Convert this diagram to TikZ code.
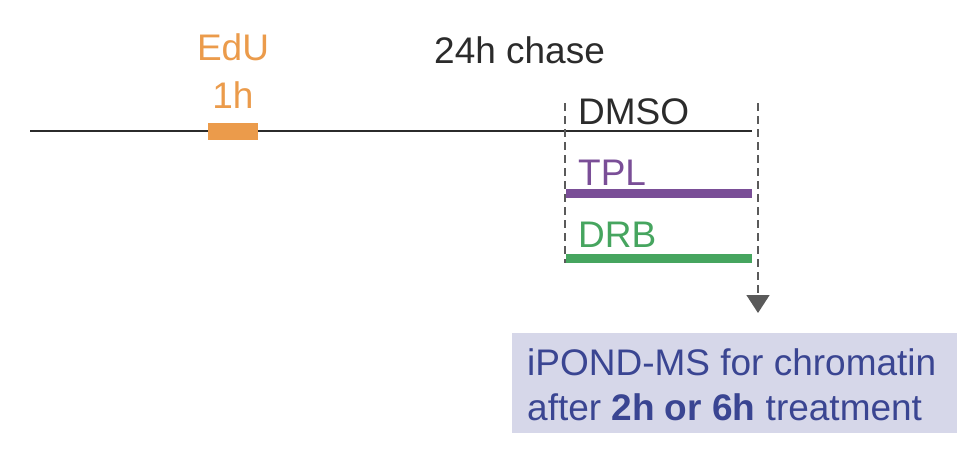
\documentclass[tikz,border=0pt]{standalone}
\usepackage{fontspec}
\setmainfont{Liberation Sans}
\usetikzlibrary{arrows.meta}
\definecolor{eduorange}{HTML}{EB9B4B}
\definecolor{tplpurple}{HTML}{7A4E97}
\definecolor{drbgreen}{HTML}{46A55F}
\definecolor{markgrey}{HTML}{5A5A5A}
\definecolor{boxfill}{HTML}{D6D7E9}
\definecolor{boxtext}{HTML}{3A4592}
\definecolor{inkblack}{HTML}{2B2B2B}
\tikzset{
  label text/.style={inner sep=0pt, anchor=base west, font=\fontsize{37}{44}\selectfont},
  timepoint/.style={markgrey, line width=1.6pt, dash pattern=on 8pt off 5pt},
}
\begin{document}
\begin{tikzpicture}[x=1pt, y=-1pt, line join=round, >={Triangle[width=23pt,length=18pt]}]
	\useasboundingbox (0,0) rectangle (974,448);
	% time line
	\coordinate (start) at (30,131);
	\coordinate (end) at (752,131);
	\draw[inkblack, line width=1.6pt] (start)--(end);
	\fill[eduorange] (208,123) rectangle (258,140);
	\node[label text, eduorange, anchor=base] (edu) at (233,60){EdU};
	\node[label text, eduorange, anchor=base] (pulse) at (233,108){1h};
	\node[label text, inkblack] (chase) at (434,63){24h chase};
	% treatments
	\coordinate (tplstart) at (566,193.5);
	\coordinate (tplend) at (752,193.5);
	\coordinate (drbstart) at (566,258.5);
	\coordinate (drbend) at (752,258.5);
	\draw[tplpurple, line width=9pt] (tplstart)--(tplend);
	\draw[drbgreen, line width=9pt] (drbstart)--(drbend);
	\node[label text, inkblack] (dmso) at (578,124){DMSO};
	\node[label text, tplpurple] (tpl) at (578,185){TPL};
	\node[label text, drbgreen] (drb) at (578,247){DRB};
	% start and end of treatment
	\coordinate (treatstart) at (565,103);
	\coordinate (treatstop) at (565,263);
	\coordinate (harveststart) at (758,103);
	\coordinate (harvest) at (758,313);
	\draw[timepoint] (treatstart)--(treatstop);
	\draw[timepoint, ->] (harveststart)--(harvest);
	% readout
	\fill[boxfill] (512,333) rectangle (957,433);
	\node[label text, boxtext] (readout) at (527,375){iPOND-MS for chromatin};
	\node[label text, boxtext] (readouttime) at (527,420){after \textbf{2h or 6h} treatment};
\end{tikzpicture}
\end{document}
